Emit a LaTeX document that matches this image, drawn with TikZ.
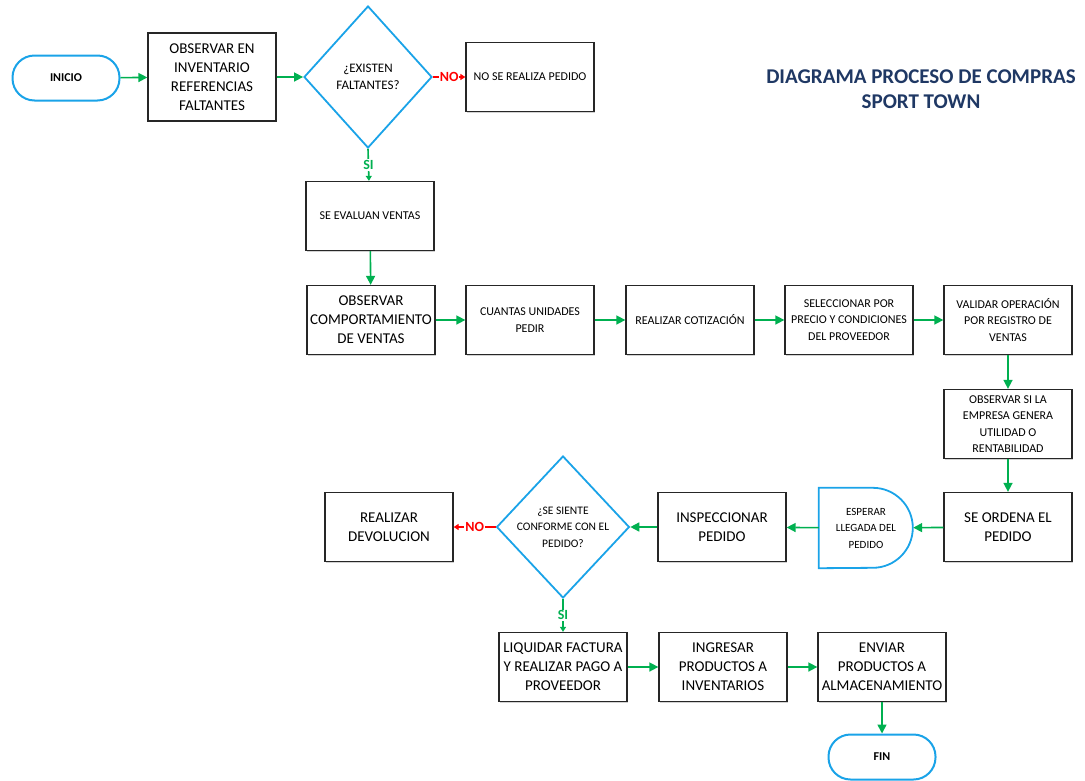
\documentclass[tikz,border=0pt]{standalone}
\usepackage{fontspec}
\setmainfont{Carlito}
\usetikzlibrary{shapes.geometric,arrows.meta,shadows}
\definecolor{flowgreen}{HTML}{00B050}
\definecolor{flowred}{HTML}{FF0000}
\definecolor{flowblue}{HTML}{1AA3E8}
\definecolor{titlenavy}{HTML}{1F3864}
\newdimen\unitsize
\setlength{\unitsize}{1pt}

\begin{document}
\begin{tikzpicture}[x=\unitsize,y=-\unitsize]
\tikzset{proc/.style={draw=black!85, line width=1.3pt, fill=white, align=center,
  minimum width=128, minimum height=69, inner sep=1pt,
  drop shadow={shadow xshift=1.2pt, shadow yshift=-1.2pt, fill=black!35}}}%
\tikzset{big/.style={font=\fontsize{15}{19}\selectfont}}%
\tikzset{small/.style={font=\fontsize{12}{16.5}\selectfont}}%
\tikzset{term/.style={draw=flowblue, line width=2pt, fill=white, rounded corners=22pt,
  minimum width=107, minimum height=45, font=\fontsize{12}{14}\bfseries}}%
\tikzset{decision/.style={diamond, draw=flowblue, line width=1.8pt, fill=white, align=center,
  minimum width=128, minimum height=142, inner sep=0pt}}%
\tikzset{flow/.style={draw=flowgreen, line width=1.6pt, -{Triangle[length=9pt,width=9pt]}}}%
\tikzset{yes/.style={draw=flowgreen, line width=1.6pt, -{Triangle[length=5pt,width=6pt]}}}%
\tikzset{no/.style={draw=flowred, line width=1.6pt, -{Triangle[length=5pt,width=6pt]}}}%
\tikzset{lbl/.style={fill=white, inner sep=1pt, font=\fontsize{14}{16}\bfseries}}%
\useasboundingbox (0,0) rectangle (1085,780);

% titulo
\node[align=center, text=titlenavy, font=\fontsize{21}{25}\bfseries] (titulo) at (921,89)
  {DIAGRAMA PROCESO DE COMPRAS\\SPORT TOWN};

% primera parte
\node[term] (inicio) at (66,78) {INICIO};
\node[proc,big,minimum height=88] (observar) at (212,77) {OBSERVAR EN\\INVENTARIO\\REFERENCIAS\\FALTANTES};
\node[decision,font=\fontsize{13}{17}\selectfont] (existen) at (368,77) {¿EXISTEN\\FALTANTES?};
\node[proc,small] (nopedido) at (530,77) {NO SE REALIZA PEDIDO};
\node[proc,small] (evaluan) at (370,216) {SE EVALUAN VENTAS};

% fila de ventas
\node[proc,big] (comport) at (371,320) {OBSERVAR\\COMPORTAMIENTO\\DE VENTAS};
\node[proc,small] (unidades) at (530,320) {CUANTAS UNIDADES\\PEDIR};
\node[proc,small] (cotiza) at (690,320) {REALIZAR COTIZACIÓN};
\node[proc,small] (selecc) at (849,320) {SELECCIONAR POR\\PRECIO Y CONDICIONES\\DEL PROVEEDOR};
\node[proc,small] (validar) at (1008,320) {VALIDAR OPERACIÓN\\POR REGISTRO DE\\VENTAS};
\node[proc,small] (utilidad) at (1008,424) {OBSERVAR SI LA\\EMPRESA GENERA\\UTILIDAD O\\RENTABILIDAD};

% fila del pedido
\node[proc,big] (ordena) at (1008,527) {SE ORDENA EL\\PEDIDO};
\node[font=\fontsize{11}{16.5}\selectfont, align=center, minimum width=94, minimum height=80, inner sep=0pt] (espera) at (866,528)
  {ESPERAR\\LLEGADA DEL\\PEDIDO};
\draw[flowblue, line width=1.8pt] (espera.north west) -- ++(54,0)
  arc[start angle=90, end angle=-90, radius=40pt] -- (espera.south west) -- cycle;
\node[proc,big] (inspecc) at (722,527) {INSPECCIONAR\\PEDIDO};
\node[decision,font=\fontsize{11.5}{16.5}\selectfont] (conforme) at (563,527) {¿SE SIENTE\\CONFORME CON EL\\PEDIDO?};
\node[proc,big] (devol) at (389,527) {REALIZAR\\DEVOLUCION};

% ultima fila
\node[proc,big] (liquidar) at (563,667) {LIQUIDAR FACTURA\\Y REALIZAR PAGO A\\PROVEEDOR};
\node[proc,big] (ingresar) at (723,667) {INGRESAR\\PRODUCTOS A\\INVENTARIOS};
\node[proc,big] (enviar) at (882,667) {ENVIAR\\PRODUCTOS A\\ALMACENAMIENTO};
\node[term] (fin) at (882,757) {FIN};

% conectores
\draw[flow] (inicio) -- (observar);
\draw[flow] (observar) -- (existen);
\draw[no] (existen.east) -- node[lbl,text=flowred]{NO} (nopedido);
\draw[yes] (existen.south) -- node[lbl,text=flowgreen]{SI} (evaluan);
\draw[flow] (evaluan) -- (comport);
\draw[flow] (comport) -- (unidades);
\draw[flow] (unidades) -- (cotiza);
\draw[flow] (cotiza) -- (selecc);
\draw[flow] (selecc) -- (validar);
\draw[flow] (validar) -- (utilidad);
\draw[flow] (utilidad) -- (ordena);
\draw[flow] (ordena) -- (espera);
\draw[flow] (espera) -- (inspecc);
\draw[flow] (inspecc) -- (conforme);
\draw[no] (conforme.west) -- node[lbl,text=flowred]{NO} (devol);
\draw[yes] (conforme.south) -- node[lbl,text=flowgreen]{SI} (liquidar);
\draw[flow] (liquidar) -- (ingresar);
\draw[flow] (ingresar) -- (enviar);
\draw[flow] (enviar) -- (fin);
\end{tikzpicture}
\end{document}
